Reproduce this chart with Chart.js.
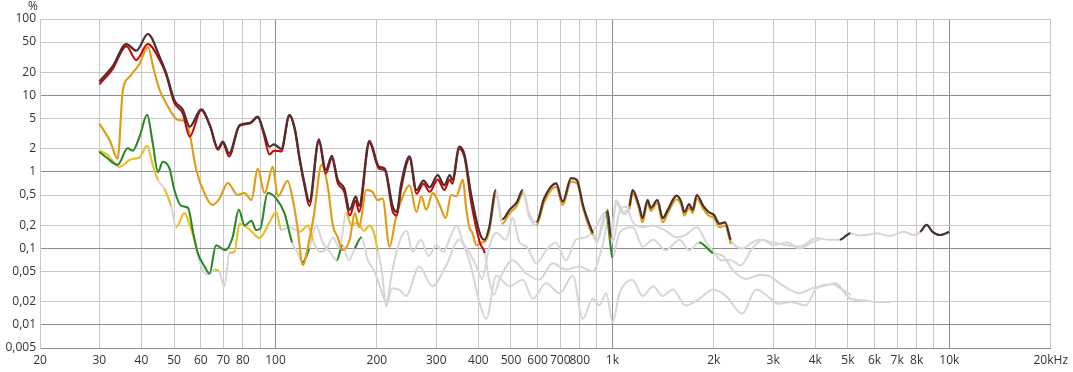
<!DOCTYPE html>
<html><head><meta charset="utf-8">
<script src="https://cdn.jsdelivr.net/npm/chart.js@4/dist/chart.umd.min.js"></script>
<style>html,body{margin:0;padding:0;background:#fff;}canvas{display:block;}</style>
</head><body>
<canvas id="c" width="1073" height="372"></canvas>
<script>
// ---- data (frequency Hz / distortion %) ----
const thdHz = [30,32.8,36.1,38.6,41.8,45.3,47.4,50.1,53.1,55.6,
  60.2,64,67.5,69.8,72.8,78.2,84,88.6,92,96,
  99,104,110,114,118,122,126,134.5,141,147,
  153,160,166,173,177,190,203,211,223,229,
  236,250,262,275,287,303,317,329,335,351,
  364,381,404,417,431,451,471,495,520,542,
  566,595,627,681,712,754,784,819,853,875,
  900,940,966,990,1025,1080,1123,1148,1200,1228,
  1272,1300,1360,1410,1460,1550,1600,1635,1690,1730,
  1780,1860,1930,2000,2080,2160,2245,2430,2600,2730,
  3000,3300,3600,4030,4400,4730,5080,5400,5660,6080,
  6650,7330,7800,8200,8560,8920,9370,10000];
const thdPct = [15.2,23.8,47,38.5,63.7,32,19.5,8.7,6.5,3.9,
  6.6,4.0,2.04,2.5,1.75,4.1,4.4,5.3,3.5,2.14,
  2.3,2.0,5.6,3.8,1.5,0.7,0.41,2.67,1.06,1.62,
  0.79,0.61,0.32,0.475,0.36,2.56,1.17,1.11,0.35,0.30,
  0.7,1.6,0.58,0.77,0.63,0.91,0.67,0.91,0.79,2.14,
  1.67,0.5,0.158,0.13,0.19,0.58,0.24,0.32,0.4,0.58,
  0.29,0.22,0.45,0.71,0.41,0.83,0.79,0.36,0.21,0.16,
  0.13,0.25,0.32,0.14,0.43,0.3,0.36,0.58,0.36,0.25,
  0.43,0.34,0.43,0.25,0.32,0.49,0.41,0.30,0.38,0.32,
  0.50,0.36,0.30,0.275,0.21,0.22,0.13,0.10,0.12,0.13,
  0.12,0.11,0.106,0.137,0.13,0.13,0.158,0.148,0.15,0.158,
  0.146,0.165,0.15,0.165,0.203,0.165,0.15,0.165];

const h2Hz = [30,32.8,36.1,38.6,41.8,45.3,47.4,50.1,53.1,55.6,
  60.2,64,67.5,69.8,72.8,78.2,84,88.6,92,96,
  99,104,110,114,118,122,126,134.5,141,147,
  153,160,166,173,177,190,203,211,223,229,
  236,250,262,275,287,303,317,329,335,351,
  364,381,404,418,430,445,463,506,555,607,
  664,728,798,874,930,980,1000,1050,1100,1150,
  1230,1320,1440,1550,1650,1780,1900,2000,2100,2250,
  2400,2600,2800,3000,3300,3600,3900,4100];
const h2Pct = [14.0,22,44,29,47,29,18.5,8.0,5.8,2.9,
  6.4,3.9,1.95,2.4,1.6,4.0,4.3,5.2,3.3,1.7,
  1.9,1.85,5.4,3.6,1.4,0.65,0.36,2.5,0.95,1.5,
  0.72,0.55,0.27,0.42,0.3,2.4,1.1,1.05,0.3,0.27,
  0.6,1.5,0.52,0.7,0.55,0.8,0.58,0.8,0.7,2.0,
  1.55,0.4,0.12,0.087,0.04,0.025,0.04,0.07,0.047,0.039,
  0.064,0.053,0.058,0.05,0.1,0.25,0.12,0.3,0.35,0.22,
  0.19,0.2,0.17,0.14,0.15,0.19,0.12,0.09,0.07,0.07,
  0.06,0.1,0.13,0.11,0.12,0.1,0.12,0.13];

const h3Hz = [30,32.2,34,35.2,36.9,39.5,41.8,43.5,45.3,47.3,
  51.3,54.3,55.6,58.2,62.2,65.1,68.2,72.2,77.2,80.9,
  84.8,88.6,92.8,98.2,101.6,108.7,112.6,116,120.5,126,
  130,137,143,148,153,158,166,172,177,186,
  194,201,208,218,228,241,250,262,271,280,
  293,307,320,332,344,360,368,376,384,395,
  410,420,431,451,471,495,520,542,566,595,
  627,681,712,754,784,819,853,875,900,940,
  966,990,1025,1080,1123,1148,1200,1228,1272,1300,
  1360,1410,1460,1550,1600,1635,1690,1730,1780,1860,
  1930,2000,2080,2160,2245];
const h3Pct = [4.3,2.6,1.5,11.2,17.6,26,43,22,11.8,8,
  4.8,4.55,3.2,1.06,0.475,0.37,0.45,0.72,0.5,0.53,
  0.43,1.1,0.53,1.17,0.48,0.77,0.43,0.2,0.061,0.13,
  0.27,1.24,0.64,0.2,0.14,0.095,0.13,0.29,0.19,0.58,
  0.55,0.43,0.45,0.106,0.26,0.53,0.67,0.30,0.48,0.32,
  0.53,0.37,0.25,0.5,0.48,0.79,0.34,0.19,0.16,0.11,
  0.12,0.125,0.17,0.5,0.21,0.29,0.36,0.53,0.26,0.2,
  0.4,0.64,0.37,0.75,0.72,0.33,0.19,0.15,0.12,0.22,
  0.29,0.13,0.39,0.28,0.33,0.52,0.33,0.22,0.39,0.31,
  0.39,0.22,0.29,0.44,0.37,0.27,0.34,0.29,0.45,0.33,
  0.27,0.25,0.19,0.2,0.115];

const h4Hz = [30,31.7,34,36.4,37.7,39.5,41.6,43.2,44.8,46.3,
  48.5,50.1,52.5,55,57,58.8,61.6,63.7,66.6,71,
  74.6,77.8,81,84.8,87.6,90,94.8,100.5,106.3,112,
  116,120,126,132,138,145,152,158,165,172,
  180,188,197,205,213,222,233,245,255,270,
  285,300,315,330,345,360,375,394,410,430,
  452,483,506,530,556,595,636,680,728,779,
  834,892,955,990,1000,1050,1150,1230,1320,1440,
  1580,1690,1810,1990,2130,2270,2490,2730,2900,3200,
  3580,3900,4200,4600,5080,5600,6000,6400,6650];
const h4Pct = [1.84,1.51,1.24,2.04,1.9,2.9,5.6,2.4,1.0,1.36,
  1.1,0.58,0.36,0.34,0.158,0.087,0.058,0.047,0.11,0.095,
  0.14,0.32,0.2,0.23,0.175,0.18,0.53,0.45,0.29,0.12,
  0.09,0.065,0.1,0.2,0.12,0.09,0.07,0.11,0.07,0.1,
  0.14,0.07,0.05,0.03,0.02,0.05,0.12,0.17,0.09,0.13,
  0.08,0.11,0.09,0.14,0.2,0.12,0.09,0.06,0.04,0.1,
  0.16,0.13,0.25,0.12,0.106,0.064,0.095,0.12,0.07,0.13,
  0.14,0.19,0.3,0.1,0.075,0.16,0.19,0.106,0.13,0.095,
  0.13,0.095,0.12,0.087,0.08,0.053,0.04,0.045,0.044,0.033,
  0.026,0.03,0.032,0.035,0.022,0.021,0.02,0.02,0.02];

const h5Hz = [30,31.7,34.4,37.3,39.5,41.6,43.2,44.8,46.8,49,
  50.7,53.7,55.5,58.2,60,63,66,68,70.5,73,
  75.5,78.2,84,89.6,96,100.5,104,110,118,125,
  129,135,142,148,155,162,168,175,183,190,
  196,201,207,213,222,233,244,267,292,320,
  351,376,404,422,452,495,542,580,636,697,
  763,816,874,915,958,1002,1050,1144,1230,1320,
  1410,1510,1650,1810,1990,2170,2430,2670,2920,3100,
  3400,3750,4030,4500,4800,5080];
const h5Pct = [1.9,1.67,1.17,1.47,1.55,2.2,1.24,0.79,0.6,0.36,
  0.19,0.29,0.21,0.106,0.061,0.045,0.053,0.05,0.032,0.087,
  0.09,0.21,0.175,0.137,0.22,0.30,0.175,0.19,0.165,0.2,
  0.13,0.09,0.1,0.14,0.1,0.29,0.2,0.22,0.17,0.2,
  0.16,0.095,0.05,0.0175,0.03,0.029,0.024,0.058,0.032,0.058,
  0.13,0.07,0.019,0.012,0.044,0.032,0.039,0.022,0.035,0.026,
  0.044,0.012,0.022,0.018,0.026,0.011,0.026,0.039,0.024,0.032,
  0.024,0.029,0.018,0.022,0.029,0.024,0.014,0.029,0.023,0.019,
  0.02,0.018,0.03,0.034,0.029,0.025];

// frequency bands where each trace is drawn in colour (elsewhere grey, below noise)
const thdShown = [[30,456],[478,500],[505,548],[590,880],[960,1000],[1110,2250],[4650,5150],[5550,5650],[7700,7900],[8100,10000]];
const h2Shown  = [[30,420]];
const h3Shown  = [[30,452],[478,500],[505,548],[590,880],[960,1000],[1110,2250]];
const h4Shown  = [[30,110],[118,124],[150,160],[170,178],[310,320],[970,1000],[1300,1360],[1640,1700],[1780,1990]];
const h5Shown  = [[30,44],[47,49.5],[52,58],[64.5,68],[72,88],[92,106],[114,130],[160,200],[338,346]];

// axis ticks
const xTicks = [20,30,40,50,60,70,80,90,100,200,300,400,500,600,700,800,900,1000,2000,3000,4000,5000,6000,7000,8000,9000,10000,20000];
const xLabels = ['20','30','40','50','60','70','80','','100','200','300','400','500','600','700','800','','1k','2k','3k','4k','5k','6k','7k','8k','','10k','20kHz'];
const yTicks = [0.005,0.01,0.02,0.05,0.1,0.2,0.5,1,2,5,10,20,50,100];
const yLabels = ['0,005','0,01','0,02','0,05','0,1','0,2','0,5','1','2','5','10','20','50','100'];

const GREY = '#d6d6d6';
const series = [
  {hz: thdHz, pct: thdPct, shown: thdShown, color: '#4a3232', w: 2.2},
  {hz: h2Hz,  pct: h2Pct,  shown: h2Shown,  color: '#d00000', w: 2},
  {hz: h3Hz,  pct: h3Pct,  shown: h3Shown,  color: '#e69b0e', w: 2},
  {hz: h4Hz,  pct: h4Pct,  shown: h4Shown,  color: '#2a8a22', w: 2},
  {hz: h5Hz,  pct: h5Pct,  shown: h5Shown,  color: '#e9c31c', w: 2}
];
function inBands(bands, a, b) {
  const m = Math.sqrt(a * b);
  return bands.some(r => m >= r[0] && m <= r[1]);
}
const datasets = [];
series.forEach((s, i) => {
  const pts = s.hz.map((f, k) => ({x: f, y: s.pct[k]}));
  datasets.push({
    data: pts, borderColor: GREY, borderWidth: 2, pointRadius: 0,
    cubicInterpolationMode: 'monotone', order: 20 + i,
    borderJoinStyle: 'round', borderCapStyle: 'round'
  });
  datasets.push({
    data: pts, borderColor: s.color, borderWidth: s.w, pointRadius: 0,
    cubicInterpolationMode: 'monotone', order: i,
    borderJoinStyle: 'round', borderCapStyle: 'butt',
    segment: {
      borderColor: ctx => inBands(s.shown, ctx.p0.parsed.x, ctx.p1.parsed.x) ? s.color : 'rgba(0,0,0,0)'
    }
  });
});

const FONT = {family: '"Open Sans", "DejaVu Sans", sans-serif', size: 12};
const percentLabel = {
  id: 'percentLabel',
  afterDraw(chart) {
    const c = chart.ctx;
    c.save();
    c.font = '12px "Open Sans", sans-serif';
    c.fillStyle = '#333';
    c.textAlign = 'center';
    c.textBaseline = 'middle';
    c.fillText('%', 33, 7);
    c.restore();
  }
};

new Chart(document.getElementById('c'), {
  type: 'line',
  data: {datasets},
  plugins: [percentLabel],
  options: {
    responsive: false, animation: false,
    layout: {padding: {top: 19, right: 22, left: 0, bottom: 0}},
    plugins: {legend: {display: false}, tooltip: {enabled: false}},
    scales: {
      x: {
        type: 'logarithmic', min: 20, max: 20000,
        afterBuildTicks: s => { s.ticks = xTicks.map(v => ({value: v})); },
        afterFit: s => { s.height = 24; },
        ticks: {
          autoSkip: false, maxRotation: 0, minRotation: 0, padding: 5,
          color: '#333', font: FONT,
          callback: (v) => { const i = xTicks.indexOf(v); return i >= 0 ? xLabels[i] : ''; }
        },
        grid: {
          drawTicks: false,
          color: ctx => ([100, 1000, 10000].includes(ctx.tick && ctx.tick.value) ? '#8c8c8c' : '#c8c8c8')
        },
        border: {display: true, color: '#8c8c8c', width: 1}
      },
      y: {
        type: 'logarithmic', min: 0.005, max: 100,
        afterBuildTicks: s => { s.ticks = yTicks.map(v => ({value: v})); },
        afterFit: s => { s.width = 40; },
        ticks: {
          autoSkip: false, padding: 4, color: '#333', font: FONT,
          callback: (v) => { const i = yTicks.indexOf(v); return i >= 0 ? yLabels[i] : ''; }
        },
        grid: {
          drawTicks: false,
          color: ctx => ([0.01, 0.1, 1, 10].includes(ctx.tick && ctx.tick.value) ? '#8c8c8c' : '#c8c8c8')
        },
        border: {display: true, color: '#c8c8c8', width: 1}
      }
    }
  }
});
</script>
</body></html>
